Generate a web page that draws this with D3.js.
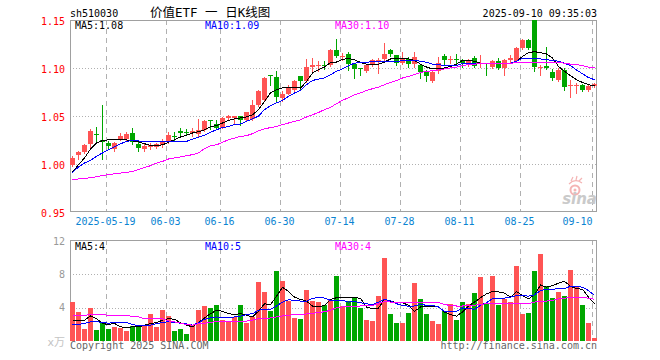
<!DOCTYPE html>
<html><head><meta charset="utf-8">
<script src="https://cdn.jsdelivr.net/npm/d3@7/dist/d3.min.js"></script>
<style>html,body{margin:0;padding:0;background:#fff;}svg{display:block;}</style>
</head><body>
<svg id="c" width="660" height="360"></svg>
<script>
const dates = [
"2025-05-09","2025-05-12","2025-05-13","2025-05-14","2025-05-15","2025-05-16","2025-05-19","2025-05-20","2025-05-21","2025-05-22",
"2025-05-23","2025-05-26","2025-05-27","2025-05-28","2025-05-29","2025-05-30","2025-06-03","2025-06-04","2025-06-05","2025-06-06",
"2025-06-09","2025-06-10","2025-06-11","2025-06-12","2025-06-13","2025-06-16","2025-06-17","2025-06-18","2025-06-19","2025-06-20",
"2025-06-23","2025-06-24","2025-06-25","2025-06-26","2025-06-27","2025-06-30","2025-07-01","2025-07-02","2025-07-03","2025-07-04",
"2025-07-07","2025-07-08","2025-07-09","2025-07-10","2025-07-11","2025-07-14","2025-07-15","2025-07-16","2025-07-17","2025-07-18",
"2025-07-21","2025-07-22","2025-07-23","2025-07-24","2025-07-25","2025-07-28","2025-07-29","2025-07-30","2025-07-31","2025-08-01",
"2025-08-04","2025-08-05","2025-08-06","2025-08-07","2025-08-08","2025-08-11","2025-08-12","2025-08-13","2025-08-14","2025-08-15",
"2025-08-18","2025-08-19","2025-08-20","2025-08-21","2025-08-22","2025-08-25","2025-08-26","2025-08-27","2025-08-28","2025-08-29",
"2025-09-01","2025-09-02","2025-09-03","2025-09-04","2025-09-05","2025-09-08","2025-09-09","2025-09-10"];

const open  = [0.999,1.009,1.012,1.021,1.0315,1.025,1.022,1.016,1.026,1.026,
1.032,1.021,1.016,1.018,1.018,1.020,1.023,1.029,1.034,1.033,
1.032,1.031,1.035,1.0455,1.042,1.038,1.048,1.048,1.050,1.046,
1.047,1.061,1.067,1.093,1.091,1.069,1.073,1.077,1.092,1.086,
1.101,1.102,1.103,1.103,1.119,1.112,1.115,1.104,1.0995,1.097,
1.104,1.1075,1.109,1.119,1.114,1.105,1.109,1.1045,1.1027,1.0965,
1.086,1.0965,1.112,1.1085,1.109,1.108,1.105,1.110,1.104,1.105,
1.101,1.107,1.100,1.108,1.107,1.121,1.1295,1.155,1.100,1.1025,
1.096,1.088,1.098,1.081,1.0815,1.0825,1.0775,1.081];
const high  = [1.008,1.014,1.021,1.036,1.039,1.061,1.024,1.023,1.032,1.033,
1.037,1.025,1.021,1.022,1.022,1.026,1.033,1.033,1.037,1.036,
1.037,1.047,1.046,1.046,1.046,1.049,1.051,1.050,1.050,1.054,
1.067,1.077,1.091,1.093,1.097,1.076,1.082,1.087,1.092,1.109,
1.110,1.107,1.107,1.120,1.130,1.116,1.117,1.105,1.100,1.104,
1.109,1.110,1.126,1.120,1.114,1.117,1.111,1.117,1.104,1.098,
1.097,1.111,1.115,1.113,1.115,1.1095,1.109,1.112,1.114,1.1055,
1.1085,1.110,1.109,1.114,1.122,1.130,1.130,1.155,1.103,1.1215,
1.0985,1.0995,1.1005,1.088,1.084,1.0835,1.082,1.084];
const low   = [0.998,1.005,1.011,1.016,1.024,1.005,1.017,1.014,1.025,1.025,
1.021,1.014,1.014,1.016,1.017,1.018,1.022,1.024,1.029,1.030,
1.029,1.029,1.034,1.0365,1.036,1.037,1.047,1.042,1.041,1.045,
1.046,1.060,1.066,1.082,1.066,1.066,1.073,1.075,1.078,1.085,
1.095,1.097,1.099,1.102,1.111,1.108,1.0975,1.090,1.093,1.096,
1.102,1.095,1.108,1.113,1.1035,1.104,1.101,1.101,1.090,1.086,
1.085,1.0945,1.104,1.105,1.105,1.101,1.1025,1.1015,1.1015,1.0925,
1.100,1.0985,1.0925,1.105,1.106,1.120,1.120,1.097,1.0925,1.099,
1.087,1.0865,1.0775,1.070,1.0735,1.076,1.076,1.080];
const close = [1.006,1.012,1.020,1.034,1.030,1.0225,1.019,1.022,1.029,1.031,
1.023,1.017,1.019,1.020,1.021,1.024,1.030,1.028,1.032,1.032,
1.034,1.035,1.045,1.045,1.037,1.048,1.050,1.050,1.046,1.054,
1.061,1.076,1.090,1.092,1.070,1.073,1.080,1.086,1.086,1.101,
1.103,1.103,1.102,1.119,1.112,1.113,1.104,1.099,1.099,1.1035,
1.108,1.108,1.115,1.115,1.1055,1.110,1.1045,1.111,1.096,1.0913,
1.0955,1.105,1.1086,1.109,1.1085,1.105,1.1075,1.1025,1.105,1.1045,
1.107,1.100,1.1085,1.110,1.121,1.1295,1.121,1.101,1.1015,1.100,
1.090,1.098,1.080,1.082,1.0825,1.0775,1.081,1.083];

const ma5 = [0.9914,0.9993,1.0063,1.0156,1.022,1.0243,1.0253,1.0253,1.0253,1.025,
1.024,1.023,1.0211,1.0194,1.019,1.020,1.0225,1.0253,1.0281,1.030,
1.0323,1.0336,1.0357,1.039,1.040,1.0427,1.0454,1.0469,1.048,1.049,
1.0513,1.0566,1.0652,1.074,1.0774,1.0792,1.080,1.080,1.079,1.086,
1.0948,1.0982,1.101,1.1058,1.1062,1.109,1.110,1.1086,1.1058,1.104,
1.104,1.104,1.1062,1.1094,1.110,1.110,1.1094,1.108,1.104,1.101,
1.099,1.099,1.100,1.1017,1.104,1.108,1.108,1.107,1.105,1.1045,
1.1045,1.1045,1.1045,1.105,1.107,1.112,1.116,1.117,1.116,1.1146,
1.1104,1.1017,1.0965,1.092,1.0878,1.085,1.0826,1.0816];
const ma10 = [0.991,0.997,1.001,1.0038,1.008,1.0115,1.015,1.018,1.021,1.0235,
1.0246,1.024,1.023,1.023,1.023,1.0235,1.0235,1.0235,1.0235,1.0235,
1.026,1.028,1.030,1.033,1.0357,1.038,1.039,1.041,1.0417,1.0444,
1.047,1.050,1.0566,1.0607,1.0636,1.0663,1.0704,1.074,1.0767,1.0826,
1.087,1.0885,1.0896,1.093,1.0965,1.099,1.1024,1.105,1.106,1.106,
1.1066,1.1066,1.107,1.107,1.107,1.1075,1.108,1.108,1.107,1.106,
1.104,1.1035,1.1027,1.1027,1.1027,1.1045,1.1045,1.1045,1.1045,1.105,
1.105,1.105,1.105,1.105,1.107,1.110,1.110,1.110,1.1095,1.1086,
1.108,1.107,1.105,1.1024,1.098,1.094,1.090,1.0878];
const ma30 = [0.9836,0.9844,0.985,0.9857,0.9868,0.9881,0.9888,0.9899,0.9906,0.9913,
0.9923,0.9941,0.9965,0.9982,1.001,1.0027,1.0052,1.0063,1.0073,1.0087,
1.0097,1.0115,1.016,1.019,1.020,1.0225,1.0253,1.027,1.0288,1.0295,
1.0316,1.0347,1.0365,1.038,1.039,1.041,1.0427,1.0444,1.046,1.049,
1.0513,1.0537,1.0566,1.059,1.0628,1.0663,1.069,1.0722,1.074,1.0767,
1.0784,1.080,1.0826,1.085,1.087,1.0896,1.0913,1.093,1.0954,1.0965,
1.0972,1.098,1.099,1.100,1.101,1.1024,1.1035,1.104,1.1045,1.105,
1.105,1.105,1.105,1.105,1.1055,1.106,1.106,1.106,1.106,1.106,
1.106,1.1057,1.105,1.104,1.1035,1.1024,1.101,1.100];

const volume = [4.67,3.48,1.43,3.96,1.31,2.2,1.5,1.7,1.58,1.19,
1.82,1.7,1.82,3.2,1.7,3.68,2.97,1.19,1.5,0.83,
1.98,3.68,4.16,3.96,4.28,2.5,2.38,2.89,4.28,2.2,
2.89,7.13,5.86,3.56,8.35,7.24,4.79,2.77,2.65,6.18,
4.75,4.67,4.28,4.87,7.76,4.2,4.75,5.34,3.96,2.5,
2.38,5.46,10.0,3.2,2.2,2.2,3.4,6.93,4.99,3.3,
2.38,2.0,3.56,4.47,2.5,4.67,4.47,5.74,7.64,4.47,
7.76,4.28,5.06,4.67,8.95,3.2,3.36,8.35,10.5,6.57,
5.15,5.86,5.4,8.47,6.57,4.28,2.16,0.4];
const vma5 = [2.41,2.41,2.5,3.0,2.69,2.1,1.98,2.1,1.7,1.58,
1.7,1.7,1.9,2.1,2.2,2.5,2.69,2.6,2.2,1.9,
1.7,2.2,2.77,3.28,3.68,3.56,3.28,3.17,3.28,3.09,
2.89,3.56,4.47,4.36,5.38,6.45,5.94,5.26,4.99,4.79,
4.2,4.08,4.28,5.0,5.19,5.19,5.22,5.26,5.1,4.08,
3.88,3.95,4.99,4.8,4.6,4.58,4.3,3.56,4.08,4.12,
4.16,4.08,3.48,3.17,2.97,3.48,4.2,4.67,5.19,5.66,
5.94,5.9,5.74,5.26,5.94,5.46,5.06,5.54,6.73,6.45,
6.65,6.93,7.16,6.57,6.3,6.2,5.26,4.47];
const vma10 = [1.98,2.0,2.1,2.3,2.35,2.2,2.15,2.2,2.2,2.2,
1.98,1.82,1.82,1.9,2.1,2.2,2.35,2.2,2.15,2.05,
1.9,2.2,2.6,2.77,2.89,2.77,2.77,2.89,2.97,3.17,
3.28,3.68,3.8,3.8,4.2,4.67,4.95,4.87,4.79,4.79,
5.1,5.26,5.15,4.87,4.87,4.9,4.67,4.75,4.6,4.47,
4.36,4.67,4.99,4.83,4.47,4.28,4.16,4.2,4.4,4.28,
4.28,4.08,3.56,3.48,3.56,3.96,3.9,3.8,4.28,4.6,
5.06,5.15,5.15,5.26,5.46,5.46,5.38,5.54,6.06,6.2,
6.2,6.3,6.3,6.57,6.57,6.45,6.06,5.46];
const vma30 = [3.09,3.09,3.09,3.17,3.17,3.17,3.09,3.05,3.05,3.05,
2.97,2.89,2.65,2.65,2.65,2.65,2.41,2.3,2.14,1.98,
1.9,2.1,2.14,2.22,2.38,2.38,2.38,2.38,2.38,2.38,
2.5,2.69,2.69,2.77,2.89,3.0,3.09,3.17,3.17,3.25,
3.33,3.4,3.52,3.68,4.0,4.08,4.16,4.16,4.2,4.28,
4.28,4.47,4.75,4.67,4.6,4.6,4.63,4.67,4.67,4.67,
4.67,4.63,4.36,4.28,4.2,4.2,4.28,4.28,4.4,4.47,
4.47,4.47,4.47,4.47,4.47,4.47,4.47,4.67,4.75,4.79,
4.87,5.06,5.15,5.19,5.19,5.19,5.15,4.99];

const priceTicks = [0.95, 1.00, 1.05, 1.10, 1.15];
const volTicks = [4, 8, 12];
const tickDates = ["2025-05-19","2025-06-03","2025-06-16","2025-06-30","2025-07-14","2025-07-28","2025-08-11","2025-08-25","2025-09-10"];
const tickLabels = ["2025-05-19","06-03","06-16","06-30","07-14","07-28","08-11","08-25","09-10"];
const symbol = "sh510030";
const title = "价值ETF 一 日K线图";
const stamp = "2025-09-10 09:35:03";
const maPriceLabels = ["MA5:1.08","MA10:1.09","MA30:1.10"];
const maVolLabels = ["MA5:4","MA10:5","MA30:4"];
const maColors = ["#000000","#0000ff","#ff00ff"];

const UP = "#ff5454", DOWN = "#00a600", FRAME = "#a0a0a0", GRID = "#b0b0b0";
const MONO = "'DejaVu Sans Mono', monospace";

const svg = d3.select("#c");
const L = 70, R = 597, PT = 20, PB = 212, VT = 240, VB = 341;

const x = d3.scaleBand().domain(dates).range([L, L + 6 * dates.length]);
const cx = d => x(d) + 2.5;
const y = d3.scaleLinear().domain([0.95, 1.15]).range([PB, PT]);
const yv = d3.scaleLinear().domain([0, 12]).range([VB, VB - 100]);

svg.append("defs").append("clipPath").attr("id", "pclip")
  .append("rect").attr("x", L).attr("y", PT).attr("width", R - L).attr("height", PB - PT);

const g = svg.append("g").attr("shape-rendering", "crispEdges");

g.selectAll(".hg").data(priceTicks.slice(1, -1)).enter().append("line")
  .attr("x1", L).attr("x2", R).attr("y1", d => Math.round(y(d)) + 0.5).attr("y2", d => Math.round(y(d)) + 0.5)
  .attr("stroke", GRID).attr("stroke-dasharray", "1,2");
g.selectAll(".vhg").data(volTicks.slice(0, -1)).enter().append("line")
  .attr("x1", L).attr("x2", R).attr("y1", d => Math.round(yv(d)) + 0.5).attr("y2", d => Math.round(yv(d)) + 0.5)
  .attr("stroke", GRID).attr("stroke-dasharray", "1,2");

tickDates.forEach(d => {
  const xx = x(d) + 0.5;
  g.append("line").attr("x1", xx).attr("x2", xx).attr("y1", PT).attr("y2", PB)
    .attr("stroke", GRID).attr("stroke-dasharray", "5,4");
  g.append("line").attr("x1", xx).attr("x2", xx).attr("y1", VT).attr("y2", VB)
    .attr("stroke", GRID).attr("stroke-dasharray", "5,4");
});

g.append("path").attr("d", `M${L+0.5},${PB-0.5}V${PT+0.5}H${R-0.5}V${PB-0.5}H${L+0.5}`)
  .attr("fill", "none").attr("stroke", FRAME);
g.append("path").attr("d", `M${L+0.5},${VB}V${VT+0.5}H${R-0.5}V${VB}`)
  .attr("fill", "none").attr("stroke", FRAME);

const wm = svg.append("g");
wm.append("circle").attr("cx", 575).attr("cy", 190).attr("r", 4.5).attr("fill", "none").attr("stroke", "#f4b4b4").attr("stroke-width", 2);
wm.append("circle").attr("cx", 575).attr("cy", 190).attr("r", 1.5).attr("fill", "#f4b4b4");
wm.append("path").attr("d", "M569,184 Q575,178 582,183 M571,181 L573,177 M576,180 L577,176 M579,181 L582,178")
  .attr("fill", "none").attr("stroke", "#f4b4b4").attr("stroke-width", 1.2);
wm.append("text").attr("x", 597).attr("y", 204).attr("text-anchor", "end")
  .attr("font-family", "'DejaVu Sans', sans-serif").attr("font-style", "italic").attr("font-weight", "bold")
  .attr("font-size", 15).attr("fill", "#cacaca").text("sina");

const idx = d3.range(dates.length);
const pc = g.append("g").attr("clip-path", "url(#pclip)");
pc.selectAll(".wick").data(idx).enter().append("line")
  .attr("x1", i => cx(dates[i])).attr("x2", i => cx(dates[i]))
  .attr("y1", i => Math.round(y(high[i]))).attr("y2", i => Math.round(y(low[i])) + 1)
  .attr("stroke", i => close[i] >= open[i] ? UP : DOWN);
pc.selectAll(".body").data(idx).enter().append("rect")
  .attr("x", i => x(dates[i])).attr("width", 5)
  .attr("y", i => Math.round(y(Math.max(open[i], close[i]))))
  .attr("height", i => Math.max(1, Math.round(y(Math.min(open[i], close[i]))) - Math.round(y(Math.max(open[i], close[i])))))
  .attr("fill", i => close[i] >= open[i] ? UP : DOWN);

[ma5, ma10, ma30].forEach((arr, k) => {
  pc.append("path").datum(arr)
    .attr("d", d3.line().x((d, i) => cx(dates[i])).y(d => y(d)))
    .attr("fill", "none").attr("stroke", maColors[k]).attr("stroke-width", 1);
});

g.selectAll(".vol").data(idx).enter().append("rect")
  .attr("x", i => x(dates[i])).attr("width", 5)
  .attr("y", i => Math.round(yv(volume[i])))
  .attr("height", i => VB - Math.round(yv(volume[i])))
  .attr("fill", i => close[i] >= open[i] ? UP : DOWN);

[vma5, vma10, vma30].forEach((arr, k) => {
  g.append("path").datum(arr)
    .attr("d", d3.line().x((d, i) => cx(dates[i])).y(d => yv(d)))
    .attr("fill", "none").attr("stroke", maColors[k]).attr("stroke-width", 1);
});

const T = svg.append("g").attr("font-family", MONO).attr("font-size", 10);
T.append("text").attr("x", 70).attr("y", 17).attr("fill", "#000").text(symbol);
T.append("text").attr("x", 150).attr("y", 17).attr("fill", "#000").attr("font-size", 12.5)
  .attr("font-family", "'DejaVu Sans Mono','Noto Sans CJK SC',sans-serif").text(title);
T.append("text").attr("x", R).attr("y", 17).attr("text-anchor", "end").attr("fill", "#000").text(stamp);

T.selectAll(".py").data(priceTicks).enter().append("text")
  .attr("x", 65).attr("y", d => y(d) + 4.5).attr("text-anchor", "end").attr("fill", "#ff0000")
  .text(d => d.toFixed(2));
T.selectAll(".vy").data(volTicks).enter().append("text")
  .attr("x", 65).attr("y", d => yv(d) + 3.5).attr("text-anchor", "end").attr("fill", "#999")
  .text(d => d);
T.append("text").attr("x", 65).attr("y", 346).attr("text-anchor", "end").attr("fill", "#c4c4c4")
  .attr("font-family", "'DejaVu Sans','Noto Sans CJK SC',sans-serif").attr("font-size", 11).text("x万");

tickDates.forEach((d, k) => {
  const xx = x(d) + 0.5;
  const half = tickLabels[k].length * 3;
  const last = xx + half > R - 2;
  T.append("text").attr("x", last ? xx : xx - 1).attr("y", 225)
    .attr("text-anchor", last ? "end" : "middle").attr("fill", "#0b84d2").text(tickLabels[k]);
});

const maX = [75, 205, 335];
maPriceLabels.forEach((s, k) => T.append("text").attr("x", maX[k]).attr("y", 29).attr("fill", maColors[k]).text(s));
maVolLabels.forEach((s, k) => T.append("text").attr("x", maX[k]).attr("y", 250).attr("fill", maColors[k]).text(s));

T.append("text").attr("x", 70).attr("y", 349).attr("fill", "#666").text("Copyright 2025 SINA.COM");
T.append("text").attr("x", R).attr("y", 349).attr("text-anchor", "end").attr("fill", "#666").text("http://finance.sina.com.cn");
</script>
</body></html>
